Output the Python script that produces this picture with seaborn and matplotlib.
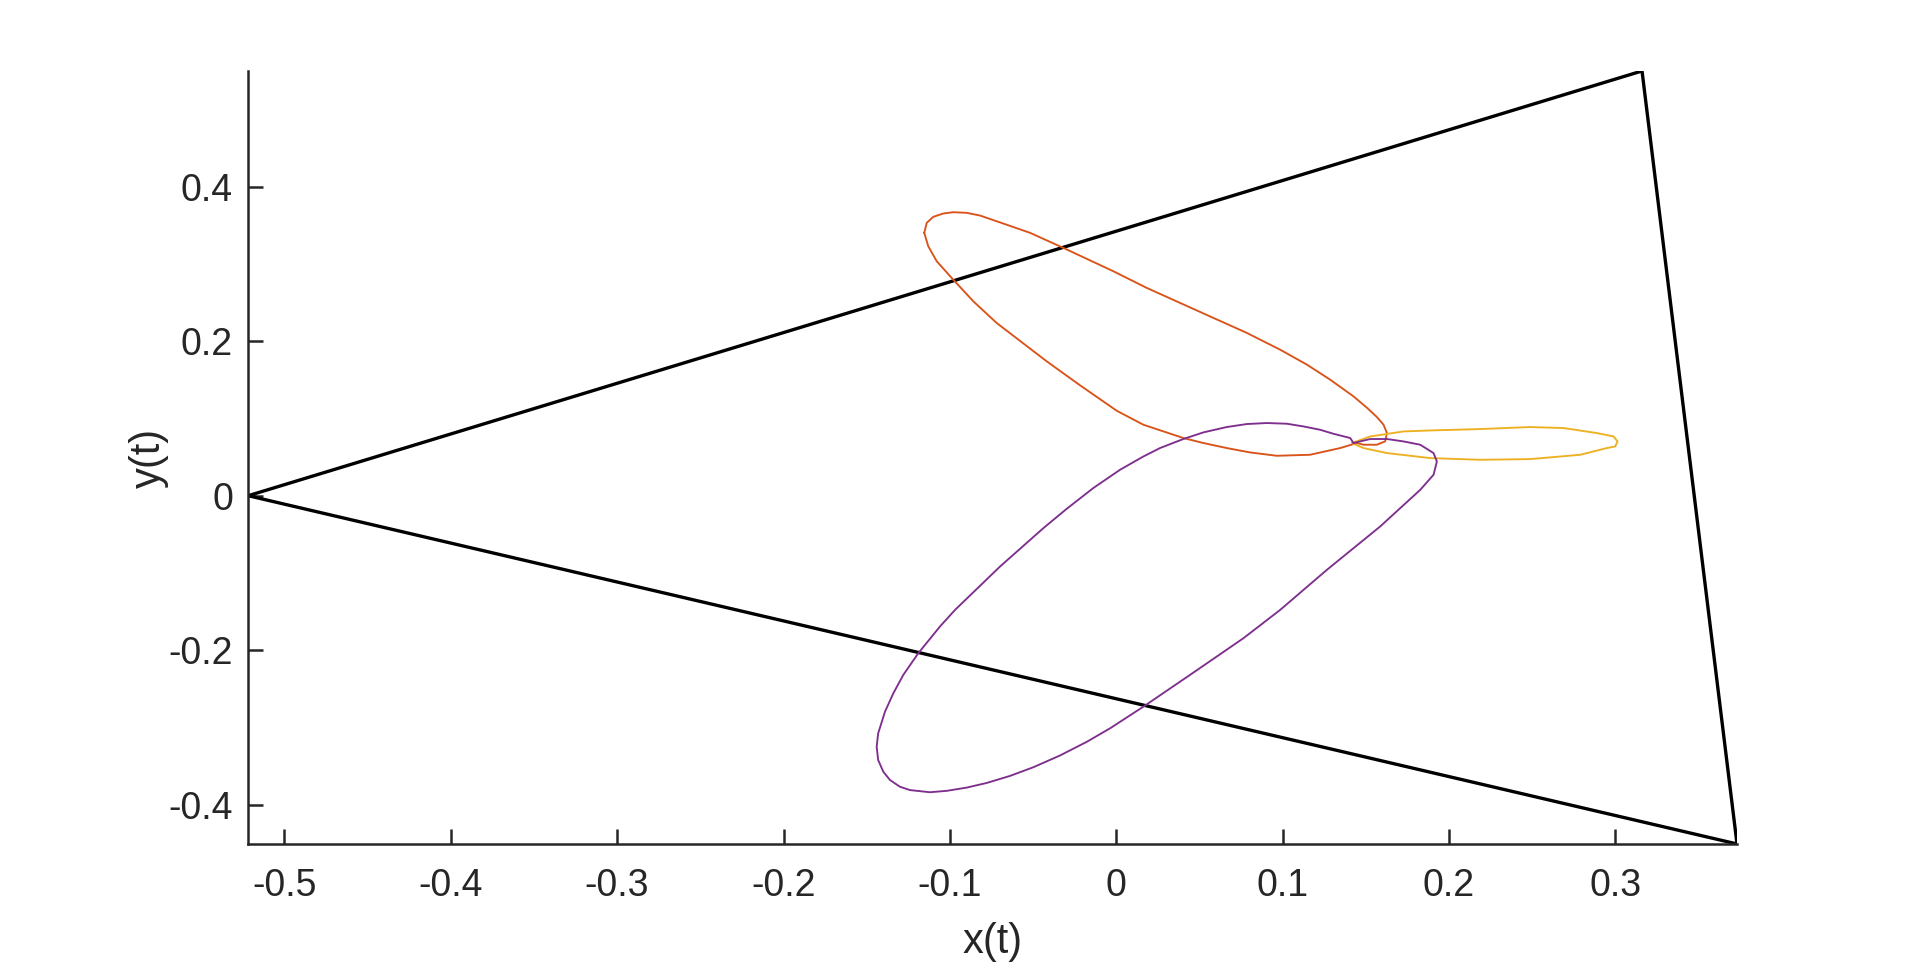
import matplotlib
matplotlib.use("Agg")
import matplotlib.pyplot as plt
import seaborn as sns
import pandas as pd

# ---- data ----
tri_x = [-0.5217, 0.3160, 0.3731, -0.5217]
tri_y = [0.0, 0.5500, -0.4510, 0.0]

orange_x = [-0.1154, -0.1139, -0.1100, -0.1040, -0.0980, -0.0899, -0.0819, -0.0719,
            -0.0518, -0.0318, -0.0017, 0.0183, 0.0584, 0.0785, 0.0985, 0.1146, 0.1286,
            0.1426, 0.1506, 0.1566, 0.1606, 0.1627, 0.1616, 0.1566, 0.1486,
            0.1446, 0.1346, 0.1165, 0.0965, 0.0805, 0.0664, 0.0524, 0.0403, 0.0163,
            0.0003, -0.0218, -0.0418, -0.0719, -0.0859, -0.0980, -0.1079, -0.1130, -0.1154]
orange_y = [0.3404, 0.3533, 0.3611, 0.3654, 0.3671, 0.3663, 0.3628, 0.3554,
            0.3404, 0.3209, 0.2906, 0.2691, 0.2302, 0.2108, 0.1891, 0.1697, 0.1502,
            0.1286, 0.1140, 0.1020, 0.0920, 0.0811, 0.0703, 0.0660, 0.0660,
            0.0682, 0.0617, 0.0530, 0.0517, 0.0560, 0.0617, 0.0682, 0.0747, 0.0919,
            0.1100, 0.1430, 0.1740, 0.2237, 0.2517, 0.2798, 0.3036, 0.3230, 0.3404]

yellow_x = [0.1416, 0.1526, 0.1726, 0.1887, 0.2188, 0.2488, 0.2689, 0.2889, 0.2989,
            0.3013, 0.2999, 0.2949, 0.2789, 0.2488, 0.2188, 0.1887, 0.1627, 0.1486, 0.1416]
yellow_y = [0.0682, 0.0767, 0.0832, 0.0845, 0.0863, 0.0889, 0.0876, 0.0811, 0.0767,
            0.0703, 0.0638, 0.0617, 0.0530, 0.0474, 0.0465, 0.0487, 0.0552, 0.0617, 0.0682]

purple_x = [0.1426, 0.1526, 0.1627, 0.1726, 0.1827, 0.1907, 0.1927, 0.1907, 0.1827,
            0.1586, 0.1266, 0.0985, 0.0764, 0.0464, 0.0163, -0.0037, -0.0177, -0.0338,
            -0.0498, -0.0639, -0.0779, -0.0899, -0.1019, -0.1120, -0.1240, -0.1300,
            -0.1360, -0.1400, -0.1431, -0.1440, -0.1431, -0.1390, -0.1340, -0.1280,
            -0.1190, -0.1060, -0.0969, -0.0699, -0.0438, -0.0298, -0.0138, 0.0023,
            0.0163, 0.0263, 0.0403, 0.0524, 0.0664, 0.0785, 0.0905, 0.1025, 0.1125,
            0.1225, 0.1305, 0.1406, 0.1426]
purple_y = [0.0682, 0.0734, 0.0734, 0.0703, 0.0660, 0.0552, 0.0443, 0.0271, 0.0076,
            -0.0399, -0.0960, -0.1479, -0.1846, -0.2290, -0.2732, -0.3012, -0.3187, -0.3364,
            -0.3516, -0.3629, -0.3720, -0.3780, -0.3822, -0.3840, -0.3812, -0.3769,
            -0.3682, -0.3575, -0.3423, -0.3251, -0.3077, -0.2797, -0.2559, -0.2321,
            -0.2040, -0.1695, -0.1479, -0.0918, -0.0420, -0.0170, 0.0099, 0.0336,
            0.0508, 0.0617, 0.0734, 0.0820, 0.0889, 0.0928, 0.0941, 0.0932, 0.0897,
            0.0854, 0.0802, 0.0747, 0.0682]

x_ticks = [-0.5, -0.4, -0.3, -0.2, -0.1, 0, 0.1, 0.2, 0.3]
x_tick_labels = ["-0.5", "-0.4", "-0.3", "-0.2", "-0.1", "0", "0.1", "0.2", "0.3"]
y_ticks = [-0.4, -0.2, 0, 0.2, 0.4]
y_tick_labels = ["-0.4", "-0.2", "0", "0.2", "0.4"]

# ---- style ----
sns.set_theme(style="white")
plt.rcParams['font.family'] = ['Liberation Sans', 'DejaVu Sans']
axis_col = "#262626"

fig = plt.figure(figsize=(19.2, 9.63), dpi=100)
ax = fig.add_axes([0.1293, 0.1236, 0.9047 - 0.1293, 0.9263 - 0.1236])

def draw(xs, ys, color, lw):
    df = pd.DataFrame({"x": xs, "y": ys})
    sns.lineplot(data=df, x="x", y="y", sort=False, estimator=None, color=color,
                 linewidth=lw, ax=ax)

draw(tri_x, tri_y, "black", 2.4)
draw(orange_x, orange_y, "#D95319", 1.35)
draw(yellow_x, yellow_y, "#EDB120", 1.35)
draw(purple_x, purple_y, "#7E2F8E", 1.35)
for ln in ax.lines:
    ln.set_solid_joinstyle("round")
ax.lines[0].set_solid_joinstyle("miter")

ax.set_xlim(-0.5217, 0.3731)
ax.set_ylim(-0.451, 0.55)
ax.set_xticks(x_ticks)
ax.set_xticklabels(x_tick_labels)
ax.set_yticks(y_ticks)
ax.set_yticklabels(y_tick_labels)

for s in ["top", "right"]:
    ax.spines[s].set_visible(False)
for s in ["left", "bottom"]:
    ax.spines[s].set_color(axis_col)
    ax.spines[s].set_linewidth(1.8)

ax.tick_params(axis="both", which="major", bottom=True, left=True, top=False, right=False,
               direction="in", length=11, width=1.8, color=axis_col,
               labelcolor=axis_col, labelsize=27)
ax.tick_params(axis="x", pad=17)
ax.tick_params(axis="y", pad=11)
ax.set_xlabel("x(t)", fontsize=30, color=axis_col, labelpad=13)
ax.set_ylabel("y(t)", fontsize=30, color=axis_col, labelpad=0)
ax.grid(False)
ax.set_facecolor("white")
fig.patch.set_facecolor("white")

fig.savefig("out.png", dpi=100, facecolor="white")
